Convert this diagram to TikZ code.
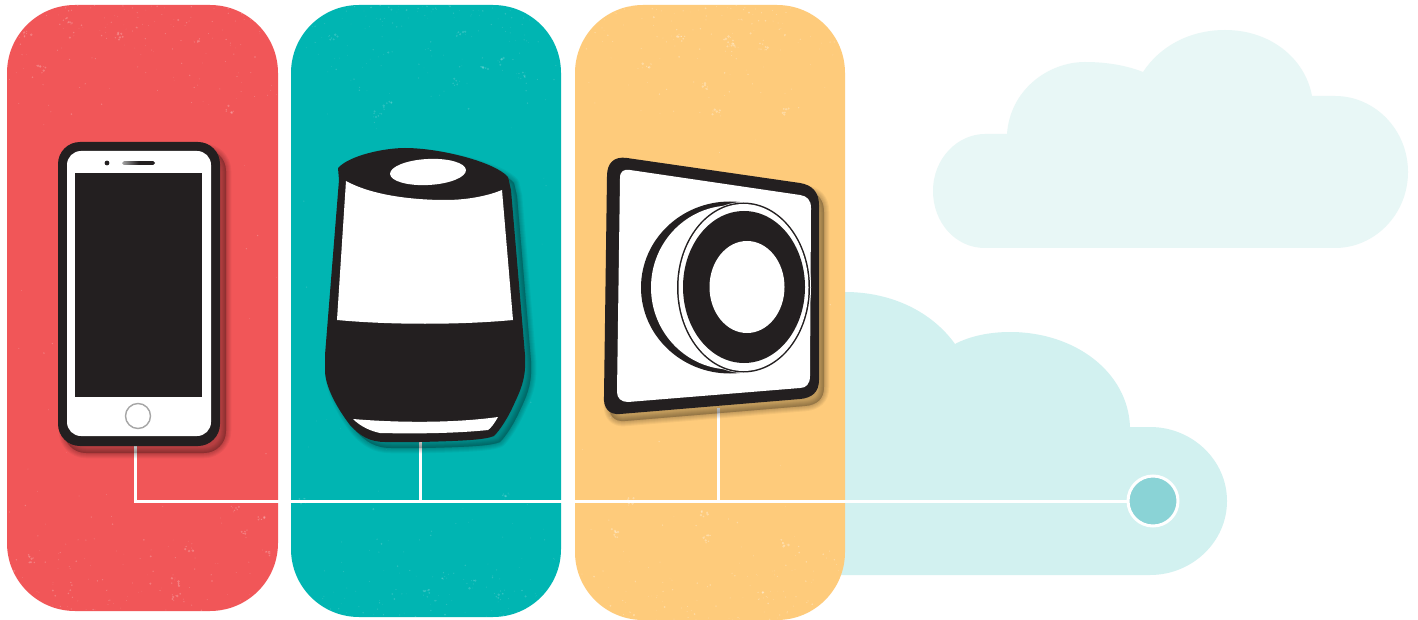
\documentclass[tikz,border=0pt]{standalone}
\usetikzlibrary{calc}
\definecolor{dk}{HTML}{231F20}
\definecolor{redp}{HTML}{F15658}
\definecolor{tealp}{HTML}{00B5B2}
\definecolor{orap}{HTML}{FECB7B}
\definecolor{cloudA}{HTML}{E8F7F6}
\definecolor{cloudB}{HTML}{D2F1F0}
\definecolor{hubc}{HTML}{8AD3D6}
\tikzset{
  panel/.style={rounded corners=68pt},
  wire/.style={draw=white,line width=3pt},
  hubnode/.style={circle,draw=white,fill=hubc,line width=3pt,minimum size=50pt,inner sep=0pt},
  shad/.style={fill=black,draw=black,opacity=0.042,line join=round},
}
\newcommand{\specks}[6]{% x0 width y0 height colour opacity
  \foreach \i in {1,...,300}{%
    \pgfmathsetmacro{\band}{rnd}%
    \pgfmathsetmacro{\sx}{#1+rnd*#2}%
    \pgfmathsetmacro{\sy}{\band<0.45?(#3+rnd*rnd*130):(\band<0.85?(#3+#4-rnd*rnd*130):(#3+rnd*#4))}%
    \pgfmathsetmacro{\sr}{0.3+rnd*rnd*0.9}%
    \fill[#5,opacity=#6] (\sx,\sy) circle[radius=\sr];
  }%
  \foreach \i in {1,...,14}{%
    \pgfmathsetmacro{\band}{rnd}%
    \pgfmathsetmacro{\cx}{#1+10+rnd*(#2-20)}%
    \pgfmathsetmacro{\cy}{\band<0.5?(#3+12+rnd*110):(#3+#4-12-rnd*110)}%
    \foreach \j in {1,...,7}{%
      \pgfmathsetmacro{\sx}{\cx+(rnd-.5)*9}%
      \pgfmathsetmacro{\sy}{\cy+(rnd-.5)*8}%
      \pgfmathsetmacro{\sr}{0.4+rnd*1.0}%
      \fill[#5,opacity=#6] (\sx,\sy) circle[radius=\sr];
    }%
  }}
\newcommand{\softshadow}[1]{%
  \foreach \w in {0.5,2.5,4.5,6.5,8.5,10.5}{\draw[shad,line width=\w pt] #1;}}
\begin{document}
\begin{tikzpicture}[x=1pt,y=-1pt]
\useasboundingbox (0,0) rectangle (1418,620);
\fill[white] (0,0) rectangle (1418,620);
% clouds
\fill[cloudA] (985,248) .. controls (955,248) and (933,222) .. (933,191)
  .. controls (933,158) and (958,134) .. (985,134) -- (1007,134)
  .. controls (1010,90) and (1048,62) .. (1085,62)
  .. controls (1108,62) and (1128,66) .. (1143,72)
  .. controls (1160,46) and (1190,30) .. (1225,30)
  .. controls (1270,30) and (1305,58) .. (1312,96)
  -- (1335,96) .. controls (1375,96) and (1408,130) .. (1408,172)
  .. controls (1408,214) and (1375,248) .. (1335,248) -- cycle;
\fill[cloudB] (800,292) -- (845,292) .. controls (892,292) and (932,312) .. (955,344)
  .. controls (970,336) and (990,332) .. (1010,332)
  .. controls (1075,332) and (1128,372) .. (1130,427)
  -- (1150,427) .. controls (1192,427) and (1227,460) .. (1227,501)
  .. controls (1227,542) and (1192,575) .. (1150,575) -- (800,575) -- cycle;
% panels
\pgfmathsetseed{11}
\fill[redp,panel] (7,5) rectangle (278,611);
\begin{scope}
 \clip[panel] (7,5) rectangle (278,611);
 \specks{7}{271}{5}{606}{white}{.22}
\end{scope}
\fill[tealp,panel] (291,5) rectangle (561,617);
\begin{scope}
 \clip[panel] (291,5) rectangle (561,617);
 \specks{291}{270}{5}{612}{white}{.16}
\end{scope}
\fill[orap,panel] (575,5) rectangle (845,620);
\begin{scope}
 \clip[panel] (575,5) rectangle (845,620);
 \specks{575}{270}{5}{615}{white}{.3}
\end{scope}
% connectors
\coordinate (phoneout) at (135,446);
\coordinate (speakerout) at (420,442);
\coordinate (thermoout) at (718,408);
\coordinate (corner) at (135,501);
\coordinate (speakerjoin) at (420,501);
\coordinate (thermojoin) at (718,501);
\node[hubnode] (hub) at (1153,501) {};
\draw[wire,line join=miter] (phoneout) -- (corner) -- (hub);
\draw[wire] (speakerout) -- (speakerjoin);
\draw[wire] (thermoout) -- (thermojoin);
% phone
\softshadow{[rounded corners=22pt] (64,149) rectangle (226,453)}
\fill[dk,rounded corners=22pt] (58,142) rectangle (220,446);
\fill[white,rounded corners=14pt] (67,151) rectangle (211,436);
\fill[dk] (75,173) rectangle (202,397);
\fill[dk] (107,163) circle[radius=2.4];
\shade[left color=gray!70,right color=dk,middle color=dk,rounded corners=1.8pt] (122,161.2) rectangle (155,165);
\draw[gray!70,line width=1.4pt,fill=white] (138,416) circle[radius=12.5];
% speaker
\def\spk{(338,168) .. controls (350,155) and (385,148) .. (405,148)
  .. controls (440,148) and (495,162) .. (508,177) -- (511,190)
  -- (525,355) .. controls (526,375) and (523,385) .. (515,402)
  .. controls (508,418) and (500,430) .. (494,436)
  .. controls (485,440) and (460,441) .. (420,442)
  -- (385,442) .. controls (370,442) and (360,436) .. (350,425)
  .. controls (340,412) and (326,390) .. (325,372) -- (325,355) -- (339,180) -- cycle}
\softshadow{[shift={(6,6)}] \spk}
\fill[dk] \spk;
\fill[white] (346,181) .. controls (375,197) and (420,200) .. (445,200)
  .. controls (470,200) and (490,195) .. (502,190) -- (513,320)
  .. controls (460,325) and (390,325) .. (337,320) -- cycle;
\fill[white] (353,419) .. controls (400,423) and (455,423) .. (498,417)
  .. controls (494,424) and (491,428) .. (488,430)
  .. controls (460,433) and (420,434) .. (380,433)
  .. controls (370,431) and (360,426) .. (353,419) -- cycle;
\fill[white,rotate around={3:(428,172)}] (428,172) ellipse[x radius=38,y radius=13];
% thermostat
\def\thr{(607,176) .. controls (607,163) and (614,156) .. (627,158) -- (800,183)
  .. controls (812,185) and (819,192) .. (819,205) -- (819,380)
  .. controls (819,392) and (812,398) .. (800,399) -- (620,414)
  .. controls (609,415) and (603,408) .. (604,396) -- cycle}
\softshadow{[shift={(5,7)}] \thr}
\fill[dk] \thr;
\fill[white] (620,178) .. controls (620,171) and (624,169) .. (630,170) -- (800,195)
  .. controls (807,196) and (811,200) .. (811,208) -- (810,376)
  .. controls (810,384) and (806,388) .. (800,388) -- (628,402)
  .. controls (621,402) and (617,398) .. (617,392) -- cycle;
\begin{scope}
 \clip (630,190) rectangle (745,385);
 \fill[dk] (730,287.5) ellipse[x radius=89,y radius=86];
 \fill[white] (731,287.5) ellipse[x radius=80,y radius=82];
\end{scope}
\fill[white] (743.5,287.5) ellipse[x radius=67.5,y radius=85.5];
\fill[dk] (743.5,287.5) ellipse[x radius=66.5,y radius=85];
\fill[white] (743.5,287.5) ellipse[x radius=65,y radius=83.5];
\fill[dk] (744,287) ellipse[x radius=61,y radius=76];
\fill[white] (747,287) ellipse[x radius=37.5,y radius=46];
\end{tikzpicture}
\end{document}
